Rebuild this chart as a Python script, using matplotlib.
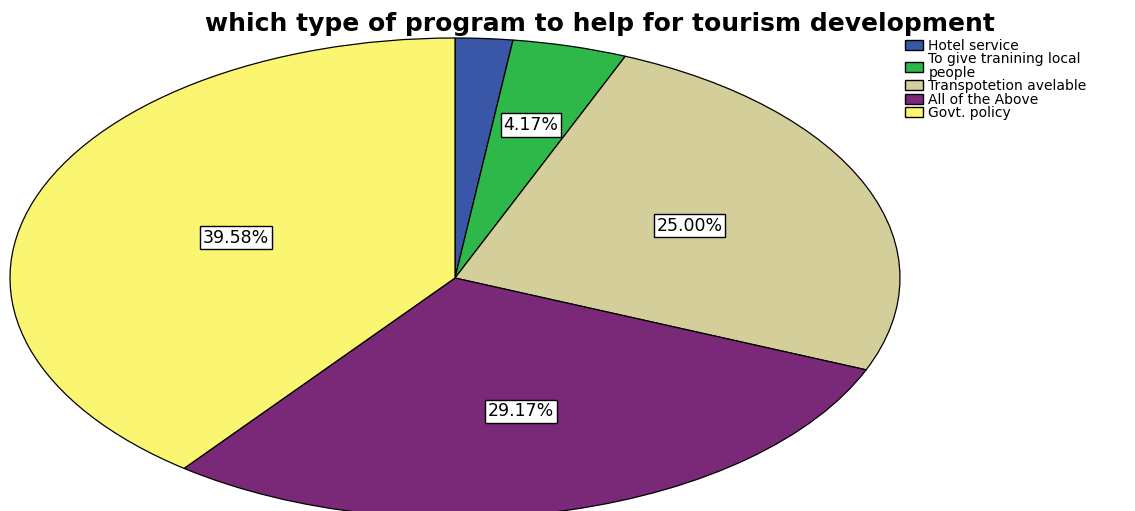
import matplotlib
matplotlib.use("Agg")
import matplotlib.pyplot as plt
import numpy as np

plt.rcParams['font.family'] = ['DejaVu Sans']

categories = ["Hotel service", "To give tranining local\npeople", "Transpotetion avelable",
              "All of the Above", "Govt. policy"]
percents = [2.08, 4.17, 25.00, 29.17, 39.58]
colors = ["#3A56A6", "#2EB84A", "#D4CE9A", "#7A2878", "#FAF671"]
label_dist = [0.0, 0.66, 0.57, 0.575, 0.52]

fig = plt.figure(figsize=(11.35, 5.11), dpi=100)
ax = fig.add_axes([0, 0, 1, 1])

wedges, _ = ax.pie(percents, colors=colors, startangle=90, counterclock=False,
                   wedgeprops=dict(edgecolor="black", linewidth=0.9))

# stretch the pie into an ellipse and place it in the figure
ax.set_aspect('auto')
ax.set_xlim(-455 / 445, (1135 - 455) / 445)
ax.set_ylim(-(511 - 278) / 240, 278 / 240)
ax.axis('off')

for w, p, d in zip(wedges, percents, label_dist):
    if p < 3:
        continue
    ang = np.deg2rad((w.theta1 + w.theta2) / 2)
    ax.text(d * np.cos(ang), d * np.sin(ang), f"{p:.2f}%", ha="center", va="center",
            fontsize=12.5, bbox=dict(boxstyle="square,pad=0.15", fc="white", ec="black", lw=1.0))

fig.text(0.529, 0.953, "which type of program to help for tourism development",
         ha="center", va="center", fontsize=18, fontweight="bold")

leg = fig.legend(wedges, categories, loc="upper left", bbox_to_anchor=(0.791, 0.937),
                 frameon=False, fontsize=10, handlelength=1.35, handleheight=0.75,
                 handletextpad=0.35, labelspacing=-0.05, borderpad=0)
for t in leg.get_texts():
    t.set_linespacing(0.95)
for h in leg.legend_handles:
    h.set_edgecolor("black")
    h.set_linewidth(1.0)

fig.savefig("out.png", dpi=100)
